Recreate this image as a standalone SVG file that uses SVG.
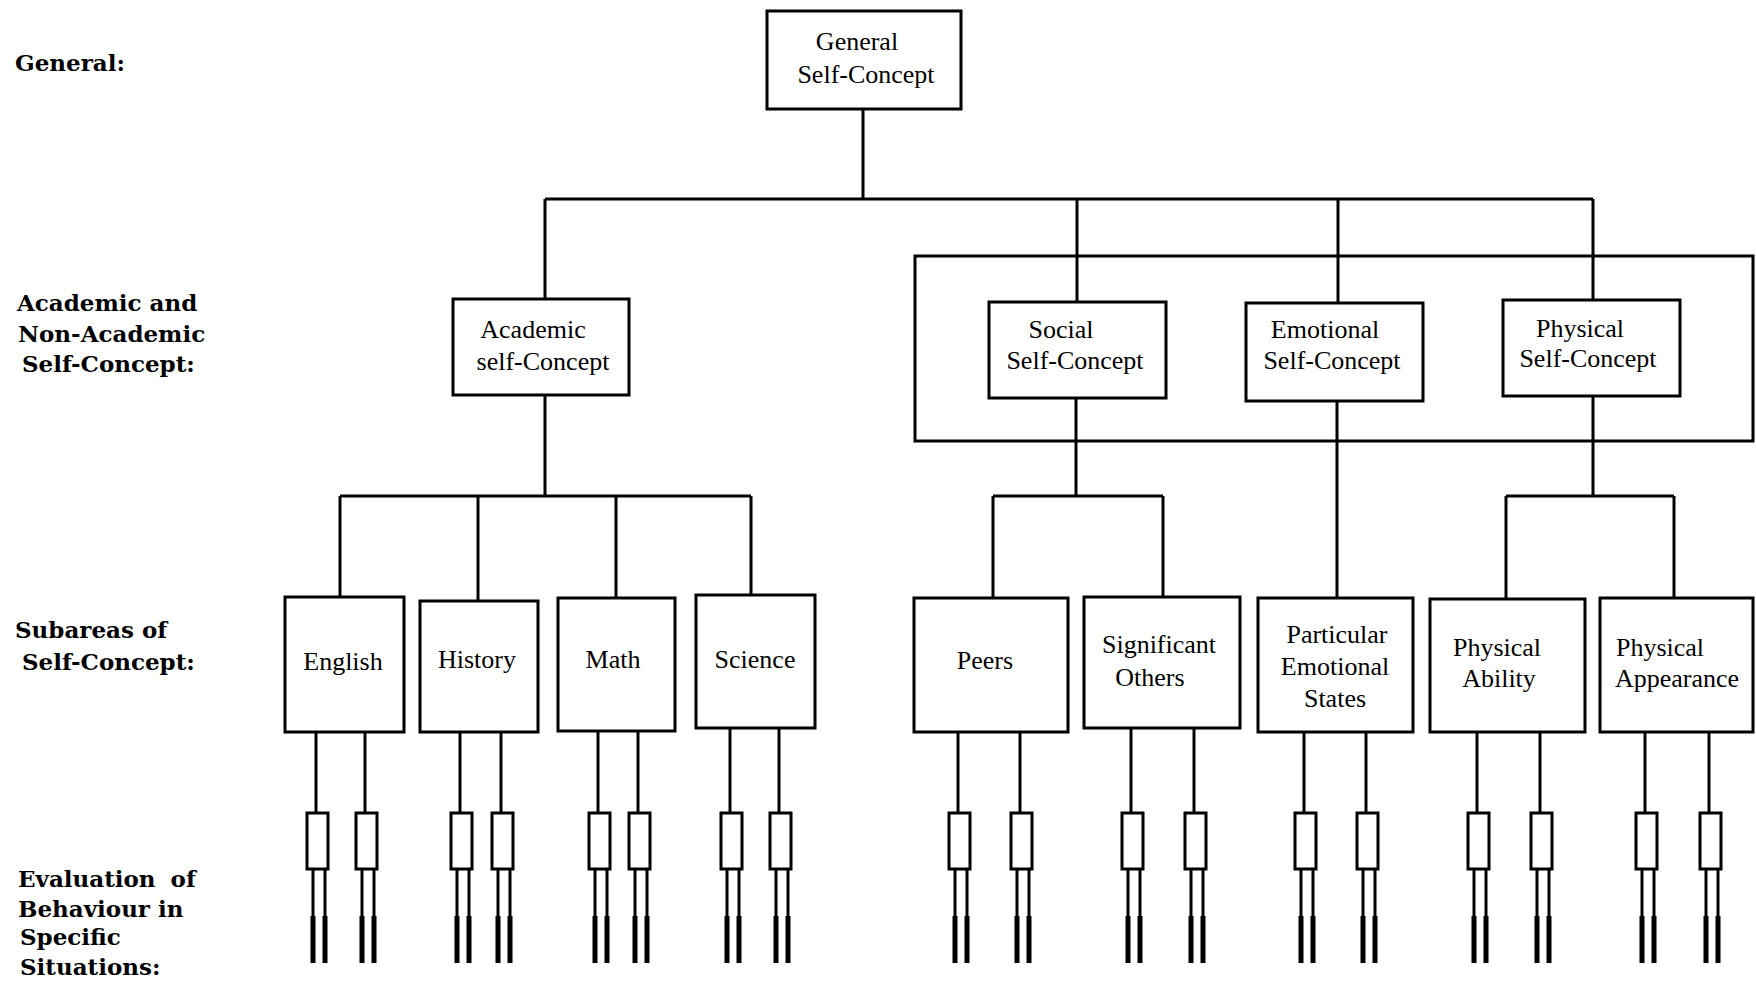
<svg xmlns="http://www.w3.org/2000/svg" width="1756" height="985" viewBox="0 0 1756 985">
<style>
.bg{fill:#fff}
.box{fill:#fff;stroke:#000;stroke-width:3}
.frame{fill:none;stroke:#000;stroke-width:3}
.ln{stroke:#000;stroke-width:3;fill:none}
.thick{stroke:#000;stroke-width:5;fill:none}
.t{font-family:"Liberation Serif","Times New Roman",serif;font-size:26px;text-anchor:middle;fill:#000}
.lbl{font-family:"DejaVu Serif",serif;font-weight:bold;font-size:23px;fill:#000}
.ws{word-spacing:7px}
</style>
<defs>
<g id="evalUnit">
<rect class="box" x="0" y="813" width="21" height="56"/>
<line class="ln" x1="6" y1="869" x2="6" y2="963"/>
<line class="ln" x1="18" y1="869" x2="18" y2="963"/>
<line class="thick" x1="6" y1="916" x2="6" y2="963"/>
<line class="thick" x1="18" y1="916" x2="18" y2="963"/>
</g>
</defs>
<rect class="bg" x="0" y="0" width="1756" height="985"/>

<g id="level-labels">
<text class="lbl" x="15" y="71">General:</text>
<text class="lbl" x="17" y="311">Academic and</text>
<text class="lbl" x="18" y="342">Non-Academic</text>
<text class="lbl" x="22" y="372">Self-Concept:</text>
<text class="lbl" x="15" y="638">Subareas of</text>
<text class="lbl" x="22" y="670">Self-Concept:</text>
<text class="lbl ws" x="18" y="887">Evaluation of</text>
<text class="lbl" x="18" y="917">Behaviour in</text>
<text class="lbl" x="20" y="945">Specific</text>
<text class="lbl" x="20" y="975">Situations:</text>
</g>

<g id="connectors">
<rect class="frame" x="915" y="256" width="838" height="185"/>
<line class="ln" x1="863" y1="109" x2="863" y2="199"/>
<line class="ln" x1="545" y1="199" x2="1593" y2="199"/>
<line class="ln" x1="545" y1="199" x2="545" y2="299"/>
<line class="ln" x1="1077" y1="199" x2="1077" y2="302"/>
<line class="ln" x1="1338" y1="199" x2="1338" y2="303"/>
<line class="ln" x1="1593" y1="199" x2="1593" y2="300"/>

<line class="ln" x1="545" y1="395" x2="545" y2="496"/>
<line class="ln" x1="340" y1="496" x2="751" y2="496"/>
<line class="ln" x1="340" y1="496" x2="340" y2="597"/>
<line class="ln" x1="478" y1="496" x2="478" y2="601"/>
<line class="ln" x1="616" y1="496" x2="616" y2="598"/>
<line class="ln" x1="751" y1="496" x2="751" y2="595"/>

<line class="ln" x1="1076" y1="398" x2="1076" y2="496"/>
<line class="ln" x1="993" y1="496" x2="1163" y2="496"/>
<line class="ln" x1="993" y1="496" x2="993" y2="598"/>
<line class="ln" x1="1163" y1="496" x2="1163" y2="597"/>

<line class="ln" x1="1337" y1="401" x2="1337" y2="598"/>

<line class="ln" x1="1593" y1="396" x2="1593" y2="496"/>
<line class="ln" x1="1506" y1="496" x2="1674" y2="496"/>
<line class="ln" x1="1506" y1="496" x2="1506" y2="599"/>
<line class="ln" x1="1674" y1="496" x2="1674" y2="598"/>

<line class="ln" x1="316" y1="732" x2="316" y2="813"/>
<line class="ln" x1="365" y1="732" x2="365" y2="813"/>
<line class="ln" x1="460" y1="732" x2="460" y2="813"/>
<line class="ln" x1="501" y1="732" x2="501" y2="813"/>
<line class="ln" x1="598" y1="731" x2="598" y2="813"/>
<line class="ln" x1="638" y1="731" x2="638" y2="813"/>
<line class="ln" x1="730" y1="728" x2="730" y2="813"/>
<line class="ln" x1="779" y1="728" x2="779" y2="813"/>
<line class="ln" x1="958" y1="732" x2="958" y2="813"/>
<line class="ln" x1="1020" y1="732" x2="1020" y2="813"/>
<line class="ln" x1="1131" y1="728" x2="1131" y2="813"/>
<line class="ln" x1="1194" y1="728" x2="1194" y2="813"/>
<line class="ln" x1="1304" y1="732" x2="1304" y2="813"/>
<line class="ln" x1="1366" y1="732" x2="1366" y2="813"/>
<line class="ln" x1="1477" y1="732" x2="1477" y2="813"/>
<line class="ln" x1="1540" y1="732" x2="1540" y2="813"/>
<line class="ln" x1="1645" y1="732" x2="1645" y2="813"/>
<line class="ln" x1="1709" y1="732" x2="1709" y2="813"/>
</g>

<g id="general">
<rect class="box" x="767" y="11" width="194" height="98"/>
<text class="t" x="857" y="50">General</text>
<text class="t" x="866" y="83">Self-Concept</text>
</g>

<g id="academic">
<rect class="box" x="453" y="299" width="176" height="96"/>
<text class="t" x="533" y="338">Academic</text>
<text class="t" x="543" y="370">self-Concept</text>
</g>
<g id="social">
<rect class="box" x="989" y="302" width="177" height="96"/>
<text class="t" x="1061" y="338">Social</text>
<text class="t" x="1075" y="369">Self-Concept</text>
</g>
<g id="emotional">
<rect class="box" x="1246" y="303" width="177" height="98"/>
<text class="t" x="1325" y="338">Emotional</text>
<text class="t" x="1332" y="369">Self-Concept</text>
</g>
<g id="physical">
<rect class="box" x="1503" y="300" width="177" height="96"/>
<text class="t" x="1580" y="337">Physical</text>
<text class="t" x="1588" y="367">Self-Concept</text>
</g>

<g id="english">
<rect class="box" x="285" y="597" width="119" height="135"/>
<text class="t" x="343" y="670">English</text>
</g>
<g id="history">
<rect class="box" x="420" y="601" width="118" height="131"/>
<text class="t" x="477" y="668">History</text>
</g>
<g id="math">
<rect class="box" x="558" y="598" width="117" height="133"/>
<text class="t" x="613" y="668">Math</text>
</g>
<g id="science">
<rect class="box" x="696" y="595" width="119" height="133"/>
<text class="t" x="755" y="668">Science</text>
</g>
<g id="peers">
<rect class="box" x="914" y="598" width="154" height="134"/>
<text class="t" x="985" y="669">Peers</text>
</g>
<g id="significant-others">
<rect class="box" x="1084" y="597" width="156" height="131"/>
<text class="t" x="1159" y="653">Significant</text>
<text class="t" x="1150" y="686">Others</text>
</g>
<g id="particular-emotional-states">
<rect class="box" x="1258" y="598" width="155" height="134"/>
<text class="t" x="1337" y="643">Particular</text>
<text class="t" x="1335" y="675">Emotional</text>
<text class="t" x="1335" y="707">States</text>
</g>
<g id="physical-ability">
<rect class="box" x="1430" y="599" width="155" height="133"/>
<text class="t" x="1497" y="656">Physical</text>
<text class="t" x="1499" y="687">Ability</text>
</g>
<g id="physical-appearance">
<rect class="box" x="1600" y="598" width="153" height="134"/>
<text class="t" x="1660" y="656">Physical</text>
<text class="t" x="1677" y="687">Appearance</text>
</g>

<g id="eval-english-1"><use href="#evalUnit" x="307"/></g>
<g id="eval-english-2"><use href="#evalUnit" x="356"/></g>
<g id="eval-history-1"><use href="#evalUnit" x="451"/></g>
<g id="eval-history-2"><use href="#evalUnit" x="492"/></g>
<g id="eval-math-1"><use href="#evalUnit" x="589"/></g>
<g id="eval-math-2"><use href="#evalUnit" x="629"/></g>
<g id="eval-science-1"><use href="#evalUnit" x="721"/></g>
<g id="eval-science-2"><use href="#evalUnit" x="770"/></g>
<g id="eval-peers-1"><use href="#evalUnit" x="949"/></g>
<g id="eval-peers-2"><use href="#evalUnit" x="1011"/></g>
<g id="eval-sig-1"><use href="#evalUnit" x="1122"/></g>
<g id="eval-sig-2"><use href="#evalUnit" x="1185"/></g>
<g id="eval-part-1"><use href="#evalUnit" x="1295"/></g>
<g id="eval-part-2"><use href="#evalUnit" x="1357"/></g>
<g id="eval-ability-1"><use href="#evalUnit" x="1468"/></g>
<g id="eval-ability-2"><use href="#evalUnit" x="1531"/></g>
<g id="eval-appear-1"><use href="#evalUnit" x="1636"/></g>
<g id="eval-appear-2"><use href="#evalUnit" x="1700"/></g>
</svg>
